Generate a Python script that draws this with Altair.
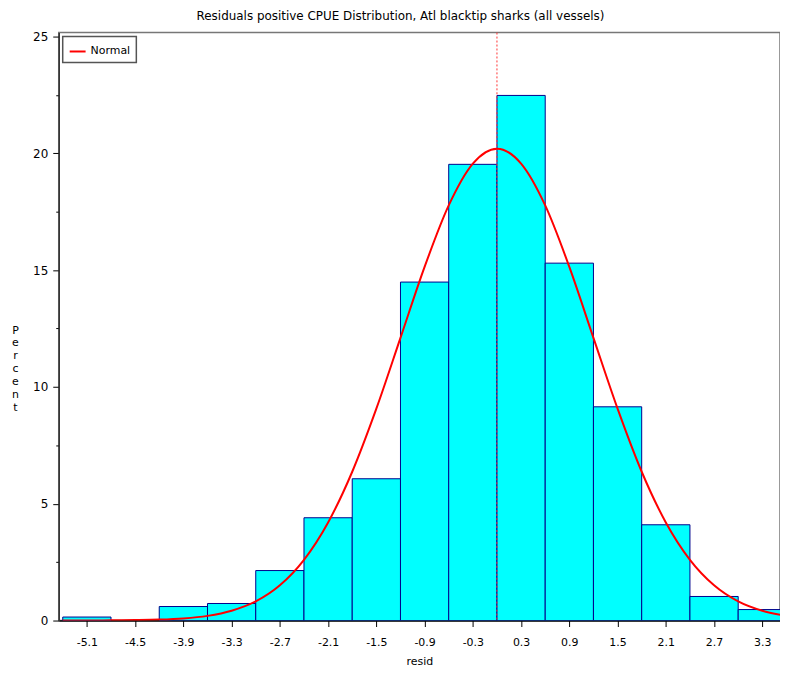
import altair as alt
import pandas as pd

# Histogram bins (centres, width 0.6) and percent per bin
bin_centers = [-5.1, -4.5, -3.9, -3.3, -2.7, -2.1, -1.5, -0.9, -0.3, 0.3, 0.9, 1.5, 2.1, 2.7, 3.3]
bin_percent = [0.15, 0.0, 0.6, 0.73, 2.14, 4.4, 6.07, 14.49, 19.53, 22.48, 15.3, 9.15, 4.1, 1.03, 0.47]

# Fitted normal curve
curve_x = [-5.4, -5.1, -4.8, -4.5, -4.2, -3.9, -3.6, -3.3, -3.0, -2.7, -2.4, -2.1, -1.8, -1.5,
           -1.2, -0.9, -0.6, -0.3, 0.0, 0.3, 0.6, 0.9, 1.2, 1.5, 1.8, 2.1, 2.4, 2.7, 3.0, 3.3, 3.6]
curve_y = [0.0, 0.0, 0.01, 0.02, 0.04, 0.09, 0.20, 0.42, 0.82, 1.51, 2.60, 4.20, 6.37, 9.07,
           12.10, 15.14, 17.77, 19.56, 20.20, 19.56, 17.77, 15.14, 12.10, 9.07, 6.37, 4.20, 2.60,
           1.51, 0.82, 0.42, 0.20]

mean_value = [0.0]
x_ticks = [-5.1, -4.5, -3.9, -3.3, -2.7, -2.1, -1.5, -0.9, -0.3, 0.3, 0.9, 1.5, 2.1, 2.7, 3.3]
y_ticks = [0, 2.5, 5, 7.5, 10, 12.5, 15, 17.5, 20, 22.5, 25]

FONT = "DejaVu Sans"
XTITLE = "resid"
YTITLE = ["P", "e", "r", "c", "e", "n", "t"]
xscale = alt.Scale(domain=[-5.45, 3.52], nice=False, zero=False)
yscale = alt.Scale(domain=[0, 25.17], nice=False)

xaxis = alt.Axis(values=x_ticks, grid=False, tickSize=6, tickColor="black",
                 domainColor="black", labelPadding=10, titlePadding=8,
                 labelExpr="datum.value < 0 ? '-' + format(-datum.value, '.1f') : format(datum.value, '.1f')")
yaxis = alt.Axis(values=y_ticks, grid=False, tickColor="black", domainColor="#333",
                 tickSize={"condition": {"test": "datum.value % 5 === 0", "value": 6}, "value": 3},
                 labelExpr="datum.value % 5 === 0 ? datum.label : ''",
                 labelPadding=5, labelFontSize=12, titleAngle=0, titleAlign="center",
                 titleBaseline="middle", titleX=-44, titleY=299, titleLineHeight=13)

bars_df = pd.DataFrame({"center": bin_centers, "pct": bin_percent})
curve_df = pd.DataFrame({"x": curve_x, "y": curve_y, "series": ["Normal"] * len(curve_x)})
mean_df = pd.DataFrame({"m": mean_value})

bars = alt.Chart(bars_df).transform_filter("datum.pct > 0").transform_calculate(
    lo="datum.center - 0.3", hi="datum.center + 0.3"
).mark_rect(fill="#00FFFF", stroke="#00008B", strokeWidth=1, clip=True).encode(
    x=alt.X("lo:Q", scale=xscale, title=XTITLE, axis=xaxis),
    x2="hi:Q",
    y=alt.Y("pct:Q", scale=yscale, title=YTITLE, axis=yaxis),
    y2=alt.datum(0),
)

rule = alt.Chart(mean_df).mark_rule(color="#ff3333", strokeDash=[2, 2], strokeWidth=1).encode(
    x=alt.X("m:Q", scale=xscale, title=XTITLE, axis=xaxis)
)

curve = alt.Chart(curve_df).mark_line(strokeWidth=2, interpolate="monotone", clip=True).encode(
    x=alt.X("x:Q", scale=xscale, title=XTITLE, axis=xaxis),
    y=alt.Y("y:Q", scale=yscale, title=YTITLE, axis=yaxis),
    color=alt.Color("series:N", scale=alt.Scale(domain=["Normal"], range=["#FF0000"]), title=None,
                    legend=alt.Legend(orient="top-left", offset=4, padding=6, strokeColor="#555",
                                      fillColor="white", symbolType="stroke", symbolSize=256,
                                      symbolStrokeWidth=2, labelFont=FONT, labelFontSize=11,
                                      labelOffset=4, cornerRadius=0)),
)

chart = alt.layer(bars, rule, curve).properties(
    width=725,
    height=591,
    title=alt.TitleParams("Residuals positive CPUE Distribution, Atl blacktip sharks (all vessels)",
                          font=FONT, fontSize=12, fontWeight="normal", anchor="middle",
                          dx=-19, offset=8, color="black"),
    autosize=alt.AutoSizeParams(type="none"),
    padding={"left": 51, "top": 23, "right": 0, "bottom": 48},
).configure_view(stroke="#777", strokeWidth=1.5).configure_axis(
    labelFont=FONT, labelFontSize=11, labelColor="black", titleFont=FONT, titleFontSize=11,
    titleFontWeight="normal", titleColor="black", domainWidth=1.5, tickWidth=1,
).configure_legend(strokeWidth=1.5)

chart.save("out.html", embed_options={"renderer": "svg", "actions": False})
